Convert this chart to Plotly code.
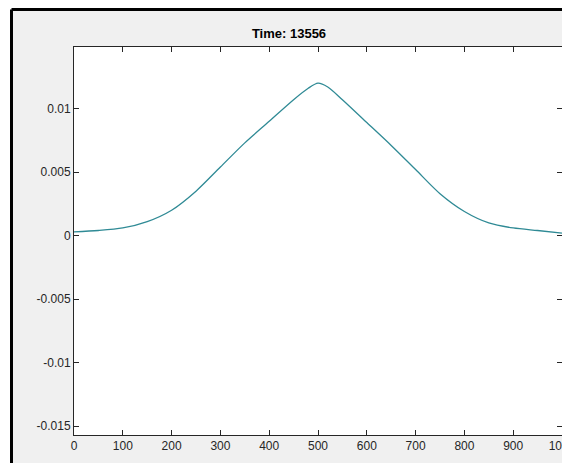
import plotly.graph_objects as go

# Data
x_pos = [0, 50, 100, 150, 200, 250, 300, 350, 400, 450, 480, 500, 520, 550,
         600, 650, 700, 750, 800, 850, 900, 950, 1000]
values = [0.0003, 0.0004, 0.0006, 0.0011, 0.0020, 0.0035, 0.0054, 0.0073, 0.0090,
          0.0107, 0.0116, 0.0120, 0.0117, 0.0107, 0.0089, 0.0071, 0.0052, 0.0033,
          0.0019, 0.0010, 0.0006, 0.0004, 0.0002]
x_ticks = [0, 100, 200, 300, 400, 500, 600, 700, 800, 900, 1000]
y_ticks = [0.01, 0.005, 0, -0.005, -0.01, -0.015]
y_tick_labels = ["0.01", "0.005", "0", "-0.005", "-0.01", "-0.015"]
title_text = "Time: 13556"

# page has an 8px body margin; work in figure coordinates (page - 8)
OFF = 8
W, H = 570 - OFF, 463 - OFF
L, R, T, B = 74 - OFF, 562 - OFF, 47 - OFF, 435 - OFF
pw, ph = R - L, B - T

def px_x(p):
    return (p - OFF - L) / pw

def px_y(p):
    return (B - (p - OFF)) / ph

fig = go.Figure()
fig.add_trace(go.Scatter(x=x_pos, y=values, mode="lines",
                         line=dict(color="#2f8a95", width=1.3, shape="spline", smoothing=0.8),
                         showlegend=False, hoverinfo="skip"))

axis_common = dict(showline=True, linecolor="#262626", linewidth=1, mirror="ticks",
                   ticks="inside", ticklen=5, tickcolor="#262626", showgrid=False,
                   zeroline=False, ticklabeloverflow="allow", automargin=False,
                   tickfont=dict(family="Liberation Sans, Arial", size=12, color="#262626"))

fig.update_xaxes(range=[0, 1000], tickvals=x_ticks, ticktext=[str(v) for v in x_ticks], **axis_common)
fig.update_yaxes(range=[-0.0157, 0.01485], tickvals=y_ticks, ticktext=y_tick_labels, **axis_common)

shapes = [
    dict(type="rect", xref="paper", yref="paper", x0=px_x(11.5), x1=px_x(620),
         y0=px_y(520), y1=px_y(9.5), fillcolor="#f0f0f0", line=dict(width=0), layer="below"),
    dict(type="rect", xref="paper", yref="paper", x0=0, x1=1, y0=0, y1=1,
         fillcolor="white", line=dict(width=0), layer="below"),
    dict(type="line", xref="paper", yref="paper", x0=px_x(11.5), x1=px_x(11.5),
         y0=px_y(9.5), y1=px_y(520), line=dict(color="black", width=3)),
    dict(type="line", xref="paper", yref="paper", x0=px_x(11.5), x1=px_x(620),
         y0=px_y(9.5), y1=px_y(9.5), line=dict(color="black", width=3)),
]

fig.update_layout(
    width=W, height=H,
    margin=dict(l=L, r=W - R, t=T, b=H - B, autoexpand=False),
    paper_bgcolor="white", plot_bgcolor="white",
    shapes=shapes,
    title=dict(text="<b>" + title_text + "</b>", x=px_x(318), xanchor="center",
               y=1 - (33 - OFF) / H, yanchor="middle",
               font=dict(family="Liberation Sans, Arial", size=13, color="#000000")),
)

fig.write_html("out.html")
